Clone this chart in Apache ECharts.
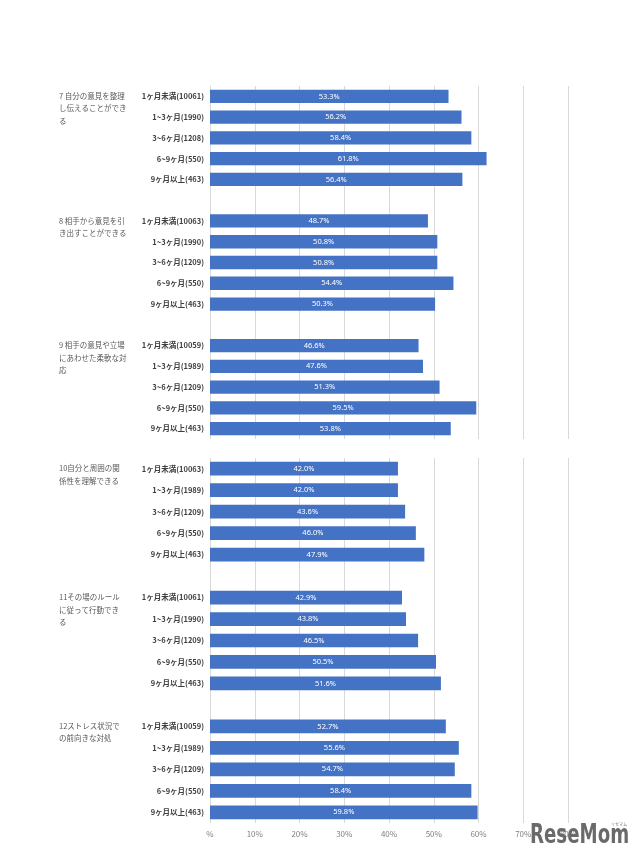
<!DOCTYPE html>
<html><head><meta charset="utf-8">
<script src="https://cdn.jsdelivr.net/npm/echarts@6/dist/echarts.min.js"></script>
<style>html,body{margin:0;padding:0;background:#fff}#c{width:640px;height:861px}</style>
</head><body><div id="c"></div>
<script>
const groupTitles = [
  '7 自分の意見を整理\nし伝えることができ\nる',
  '8 相手から意見を引\nき出すことができる',
  '9 相手の意見や立場\nにあわせた柔軟な対\n応',
  '10自分と周囲の関\n係性を理解できる',
  '11その場のルール\nに従って行動でき\nる',
  '12ストレス状況で\nの前向きな対処'
];
const periods = ['1ヶ月未満', '1~3ヶ月', '3~6ヶ月', '6~9ヶ月', '9ヶ月以上'];
const n7 = [10061, 1990, 1208, 550, 463];
const n8 = [10063, 1990, 1209, 550, 463];
const n9 = [10059, 1989, 1209, 550, 463];
const n10 = [10063, 1989, 1209, 550, 463];
const n11 = [10061, 1990, 1209, 550, 463];
const n12 = [10059, 1989, 1209, 550, 463];
const v7 = [53.3, 56.2, 58.4, 61.8, 56.4];
const v8 = [48.7, 50.8, 50.8, 54.4, 50.3];
const v9 = [46.6, 47.6, 51.3, 59.5, 53.8];
const v10 = [42.0, 42.0, 43.6, 46.0, 47.9];
const v11 = [42.9, 43.8, 46.5, 50.5, 51.6];
const v12 = [52.7, 55.6, 54.7, 58.4, 59.8];
const xTicks = ['%', '10%', '20%', '30%', '40%', '50%', '60%', '70%', '80%'];

const groupsN = [n7, n8, n9, n10, n11, n12];
const groupsV = [v7, v8, v9, v10, v11, v12];

function buildHalf(start) {
  const labels = [], values = [];
  for (let g = start; g < start + 3; g++) {
    periods.forEach((p, i) => { labels.push(p + '(' + groupsN[g][i] + ')'); values.push(groupsV[g][i]); });
    if (g < start + 2) { labels.push(''); values.push('-'); }
  }
  return { labels, values };
}
const halves = [buildHalf(0), buildHalf(3)];

const grids = [
  { left: 210, width: 358, top: 86, height: 353 },
  { left: 210, width: 358, top: 458, height: 365 }
];
const FONT = '"Noto Sans CJK JP", "Noto Sans", sans-serif';

const graphics = [];
groupTitles.forEach((t, g) => {
  const h = g < 3 ? 0 : 1;
  const gr = grids[h];
  const band = gr.height / 17;
  const row = (g % 3) * 6;
  const yc = gr.top + band * (row + 0.5);
  graphics.push({
    type: 'text', left: 59, top: yc - 6.5,
    style: { text: t, fill: '#595959', font: '7.5px ' + FONT, lineHeight: 12.5 }
  });
});
graphics.push({ type: 'text', x: 530, y: 823, scaleX: 0.7, z: 100,
  style: { text: 'ReseMom', fill: '#6a6a6a', font: 'bold 26px "DejaVu Sans", sans-serif', textVerticalAlign: 'top' } });
graphics.push({ type: 'text', x: 611, y: 822, z: 100,
  style: { text: 'リセマム', fill: '#777', font: '4px ' + FONT, textVerticalAlign: 'top' } });

const option = {
  animation: false,
  backgroundColor: '#ffffff',
  grid: grids.map(g => Object.assign({ containLabel: false }, g)),
  xAxis: [0, 1].map(i => ({
    type: 'value', gridIndex: i, min: 0, max: 80, interval: 10,
    axisLine: { show: false }, axisTick: { show: false },
    splitLine: { show: true, lineStyle: { color: '#d9d9d9', width: 1 } },
    axisLabel: { show: i === 1, color: '#7f7f7f', fontSize: 8, fontFamily: FONT, margin: 7,
      formatter: (v) => xTicks[Math.round(v / 10)] }
  })),
  yAxis: [0, 1].map(i => ({
    type: 'category', gridIndex: i, inverse: true,
    data: halves[i].labels.map((_, k) => String(k)),
    axisLine: { show: false }, axisTick: { show: false }, splitLine: { show: false },
    axisLabel: { color: '#404040', fontSize: 7.5, fontWeight: 'bold', fontFamily: FONT, margin: 6,
      interval: 0, formatter: (v, k) => halves[i].labels[k] }
  })),
  series: [0, 1].map(i => ({
    type: 'bar', xAxisIndex: i, yAxisIndex: i, data: halves[i].values,
    barWidth: '64%',
    itemStyle: { color: '#4472C4' },
    label: { show: true, position: 'inside', color: '#ffffff', fontSize: 7.5, fontFamily: '"Noto Sans", sans-serif',
      formatter: p => (typeof p.value === 'number' ? p.value.toFixed(1) + '%' : '') }
  })),
  graphic: graphics
};
const chart = echarts.init(document.getElementById('c'));
chart.setOption(option);
</script></body></html>
